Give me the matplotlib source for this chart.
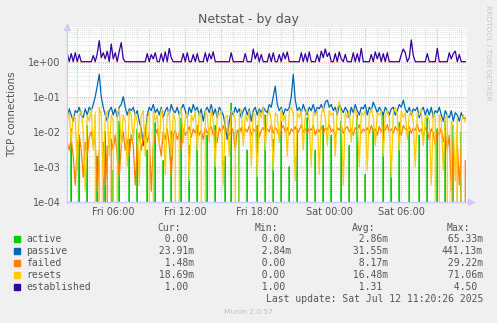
import numpy as np
import matplotlib
matplotlib.use("Agg")
import matplotlib.pyplot as plt
from matplotlib.ticker import FixedLocator, NullFormatter

# samples every 10 minutes, hours counted from Fri 00:00
hours = np.arange(200) / 6.0 + 2.17

active = [0, 0, 0.012, 0, 0, 0, 0.008, 0, 0, 0,
          0.015, 0, 0, 0, 0, 0.002, 0, 0, 0, 0.01,
          0, 0, 0, 0.0008, 0, 0, 0.02, 0, 0, 0,
          0, 0.006, 0, 0, 0, 0.012, 0, 0, 0, 0,
          0.003, 0, 0, 0, 0.018, 0, 0, 0, 0.0015, 0,
          0, 0, 0.01, 0, 0, 0, 0, 0.025, 0, 0,
          0, 0.004, 0, 0, 0, 0.012, 0, 0, 0, 0,
          0.008, 0, 0, 0, 0.015, 0, 0, 0, 0, 0.002,
          0, 0, 0.065, 0, 0, 0, 0.012, 0, 0, 0,
          0.003, 0, 0, 0, 0, 0.015, 0, 0, 0, 0.03,
          0, 0, 0, 0.006, 0, 0, 0, 0.02, 0, 0,
          0, 0.001, 0, 0, 0, 0.012, 0, 0, 0, 0,
          0.025, 0, 0, 0, 0.003, 0, 0, 0, 0.015, 0,
          0, 0, 0.008, 0, 0, 0, 0, 0.02, 0, 0,
          0, 0.004, 0, 0, 0, 0.03, 0, 0, 0, 0.0006,
          0, 0, 0, 0.012, 0, 0, 0, 0, 0.035, 0,
          0, 0, 0.002, 0, 0, 0, 0.018, 0, 0, 0,
          0, 0.01, 0, 0, 0, 0, 0.008, 0, 0, 0,
          0.025, 0, 0, 0, 0, 0.012, 0, 0, 0, 0.02,
          0, 0, 0, 0.015, 0, 0, 0, 0.01, 0, 0]
passive = [0.025, 0.045, 0.03, 0.02, 0.04, 0.035, 0.05, 0.03, 0.025, 0.045,
           0.03, 0.05, 0.04, 0.06, 0.1, 0.2, 0.44, 0.1, 0.05, 0.03,
           0.02, 0.04, 0.05, 0.03, 0.045, 0.025, 0.05, 0.06, 0.1, 0.05,
           0.03, 0.045, 0.04, 0.05, 0.03, 0.04, 0.02, 0.012, 0.004, 0.008,
           0.03, 0.05, 0.04, 0.06, 0.035, 0.045, 0.03, 0.05, 0.025, 0.04,
           0.05, 0.03, 0.06, 0.04, 0.035, 0.05, 0.03, 0.045, 0.06, 0.04,
           0.025, 0.05, 0.035, 0.06, 0.04, 0.05, 0.03, 0.045, 0.02, 0.04,
           0.05, 0.035, 0.06, 0.03, 0.045, 0.025, 0.05, 0.04, 0.03, 0.015,
           0.006, 0.02, 0.04, 0.03, 0.05, 0.035, 0.045, 0.025, 0.04, 0.05,
           0.03, 0.045, 0.02, 0.04, 0.05, 0.03, 0.045, 0.035, 0.05, 0.04,
           0.035, 0.06, 0.05, 0.1, 0.2, 0.06, 0.04, 0.05, 0.03, 0.045,
           0.04, 0.05, 0.1, 0.44, 0.08, 0.04, 0.05, 0.035, 0.06, 0.04,
           0.03, 0.05, 0.04, 0.06, 0.035, 0.05, 0.045, 0.06, 0.04, 0.07,
           0.08, 0.05, 0.06, 0.04, 0.05, 0.03, 0.06, 0.045, 0.035, 0.05,
           0.04, 0.025, 0.05, 0.035, 0.06, 0.04, 0.03, 0.05, 0.045, 0.06,
           0.03, 0.05, 0.04, 0.07, 0.05, 0.035, 0.05, 0.04, 0.03, 0.05,
           0.04, 0.03, 0.045, 0.05, 0.03, 0.04, 0.06, 0.05, 0.08, 0.045,
           0.035, 0.05, 0.03, 0.045, 0.04, 0.05, 0.025, 0.04, 0.05, 0.03,
           0.045, 0.03, 0.05, 0.025, 0.04, 0.035, 0.05, 0.03, 0.02, 0.04,
           0.03, 0.025, 0.04, 0.02, 0.035, 0.03, 0.02, 0.035, 0.025, 0.024]
failed = [0.005, 0.003, 0.006, 0.002, 0.0003, 0.004, 0.008, 0.003, 0.0005, 0.005,
          0.002, 0.007, 0.01, 0.004, 0.006, 0.0002, 0.003, 0, 0.005, 0.0003,
          0.004, 0, 0.006, 0.003, 0.008, 0.002, 0.0005, 0.004, 0.01, 0.003,
          0.006, 0.002, 0.008, 0.004, 0.0003, 0.005, 0.009, 0.003, 0.007, 0.012,
          0.005, 0.009, 0.0002, 0.004, 0.008, 0.012, 0.005, 0.002, 0.01, 0.006,
          0.012, 0.004, 0.0005, 0.008, 0.011, 0.006, 0.009, 0.003, 0.012, 0.008,
          0.01, 0.014, 0.007, 0.012, 0.009, 0.015, 0.008, 0.011, 0.006, 0.013,
          0.009, 0.012, 0.014, 0.008, 0.011, 0.005, 0.013, 0.01, 0.015, 0.009,
          0.012, 0.008, 0.014, 0.01, 0.003, 0.011, 0.009, 0.013, 0.007, 0.012,
          0.01, 0.015, 0.008, 0.012, 0.01, 0.014, 0.007, 0.011, 0.013, 0.009,
          0.012, 0.01, 0.016, 0.009, 0.013, 0.011, 0.007, 0.012, 0.015, 0.01,
          0.013, 0.008, 0.012, 0.01, 0.014, 0.009, 0.011, 0.016, 0.01, 0.012,
          0.009, 0.013, 0.011, 0.015, 0.008, 0.012, 0.01, 0.014, 0.009, 0.013,
          0.011, 0.016, 0.01, 0.012, 0.007, 0.013, 0.011, 0.015, 0.009, 0.012,
          0.014, 0.01, 0.012, 0.008, 0.013, 0.011, 0.016, 0.009, 0.012, 0.01,
          0.013, 0.009, 0.015, 0.011, 0.012, 0.008, 0.014, 0.01, 0.013, 0.011,
          0.016, 0.01, 0.012, 0.009, 0.014, 0.011, 0.013, 0.008, 0.015, 0.012,
          0.01, 0.014, 0.009, 0.013, 0.011, 0.016, 0.01, 0.012, 0.007, 0.013,
          0.011, 0.006, 0.012, 0.009, 0.004, 0.011, 0.008, 0.013, 0.005, 0.01,
          0.003, 0.008, 0.0002, 0.006, 0, 0.005, 0.0003, 0.004, 0, 0.0015]
resets = [0.02, 0.035, 0.005, 0.03, 0.025, 0.0008, 0.03, 0.04, 0.01, 0.0002,
          0.03, 0.02, 0.045, 0.003, 0.035, 0, 0.05, 0.03, 0.0005, 0.025,
          0.04, 0.002, 0.03, 0.02, 0, 0.035, 0.045, 0.004, 0.03, 0.02,
          0.001, 0.04, 0.03, 0.006, 0.035, 0.02, 0.0003, 0.03, 0.04, 0.002,
          0.025, 0.035, 0, 0.04, 0.02, 0.03, 0.004, 0.045, 0.025, 0.0006,
          0.03, 0.04, 0.002, 0.035, 0.02, 0, 0.03, 0.045, 0.005, 0.025,
          0.035, 0.0004, 0.03, 0.02, 0.04, 0.003, 0.035, 0.025, 0, 0.04,
          0.03, 0.005, 0.045, 0.02, 0.001, 0.035, 0.03, 0.04, 0.0003, 0.025,
          0.03, 0.002, 0.04, 0.035, 0.02, 0, 0.03, 0.045, 0.004, 0.03,
          0.02, 0.04, 0.001, 0.035, 0.03, 0.0005, 0.04, 0.025, 0.05, 0.003,
          0.03, 0.04, 0.02, 0.0008, 0.035, 0.03, 0.005, 0.045, 0.02, 0.03,
          0.002, 0.04, 0.05, 0.03, 0.0004, 0.035, 0.025, 0.04, 0.003, 0.03,
          0.045, 0.02, 0.001, 0.035, 0.03, 0.04, 0.0006, 0.03, 0.05, 0.025,
          0.004, 0.04, 0.03, 0.035, 0.002, 0.045, 0.071, 0.03, 0.0003, 0.035,
          0.025, 0.04, 0.005, 0.03, 0.045, 0.02, 0.001, 0.035, 0.03, 0.04,
          0.0008, 0.03, 0.045, 0.025, 0.004, 0.035, 0.03, 0.04, 0.002, 0.03,
          0.04, 0.025, 0.0005, 0.035, 0.05, 0.03, 0.003, 0.04, 0.025, 0.035,
          0.006, 0.03, 0.04, 0.02, 0.001, 0.035, 0.03, 0.045, 0.004, 0.025,
          0.03, 0.02, 0.0003, 0.035, 0.025, 0, 0.03, 0.02, 0.0008, 0.025,
          0.03, 0, 0.02, 0.015, 0.0004, 0.025, 0, 0.02, 0.03, 0.019]
established = [1.8, 1.0, 1.7, 1.0, 1.8, 1.0, 1.6, 1.0, 1.0, 1.0,
               1.0, 1.0, 1.0, 1.5, 1.0, 1.7, 4.0, 1.3, 1.8, 1.2,
               2.0, 1.0, 3.2, 1.2, 1.8, 1.0, 2.0, 3.5, 1.2, 1.0,
               1.0, 1.0, 1.0, 1.0, 1.0, 1.0, 1.0, 1.0, 1.0, 1.0,
               1.7, 1.0, 1.6, 1.2, 1.8, 1.0, 1.0, 1.7, 1.0, 1.9,
               1.0, 2.4, 1.3, 1.0, 1.0, 1.0, 1.0, 1.0, 1.7, 1.0,
               1.8, 1.0, 1.0, 1.6, 1.0, 1.7, 1.0, 1.0, 1.0, 1.8,
               1.0, 1.7, 1.2, 1.9, 1.0, 1.0, 1.0, 1.0, 1.0, 1.0,
               1.0, 1.0, 1.8, 1.0, 1.0, 1.0, 1.0, 1.0, 1.0, 1.7,
               1.0, 1.0, 1.0, 2.3, 1.2, 1.8, 1.0, 1.6, 1.0, 1.0,
               1.0, 1.7, 1.0, 1.8, 1.0, 1.0, 1.6, 1.0, 1.8, 1.2,
               1.9, 1.0, 1.0, 1.0, 1.0, 1.0, 1.0, 1.8, 1.0, 1.7,
               1.0, 1.9, 1.0, 1.0, 1.0, 1.6, 1.0, 2.0, 1.3, 2.3,
               1.4, 1.8, 1.0, 1.0, 1.7, 1.0, 1.9, 1.2, 1.0, 1.6,
               1.0, 1.0, 1.0, 1.8, 1.0, 1.7, 1.0, 2.4, 1.0, 1.0,
               1.0, 1.0, 1.6, 1.0, 1.9, 1.2, 1.8, 1.0, 1.7, 1.0,
               1.8, 1.0, 1.0, 1.0, 1.0, 1.0, 1.0, 1.6, 2.3, 1.8,
               1.0, 1.3, 4.2, 1.5, 1.0, 1.0, 1.0, 1.0, 1.0, 1.0,
               1.7, 1.0, 1.0, 1.0, 1.0, 2.4, 1.0, 1.0, 1.0, 1.0,
               1.0, 1.8, 1.2, 1.7, 2.0, 1.0, 1.6, 1.0, 1.0, 1.0]

names = ["active", "passive", "failed", "resets", "established"]
colors = ["#00cc00", "#0066b3", "#ff8000", "#ffcc00", "#330099"]
series = [active, passive, failed, resets, established]
cur = ["0.00 ", "23.91m", "1.48m", "18.69m", "1.00 "]
mins = ["0.00 ", "2.84m", "0.00 ", "0.00 ", "1.00 "]
avgs = ["2.86m", "31.55m", "8.17m", "16.48m", "1.31 "]
maxs = ["65.33m", "441.13m", "29.22m", "71.06m", "4.50 "]

tick_hours = [6, 12, 18, 24, 30]
tick_names = ["Fri 06:00", "Fri 12:00", "Fri 18:00", "Sat 00:00", "Sat 06:00"]

W, H = 497, 323
fig = plt.figure(figsize=(W / 100, H / 100), dpi=100, facecolor="#f0f0f0")
ax = fig.add_axes([67 / W, 1 - 201.7 / H, 400 / W, 175 / H])
ax.set_facecolor("white")

for vals, c in zip(series, colors):
    ax.plot(hours, vals, color=c, lw=0.9)

ax.set_yscale("log", nonpositive="clip")
ax.set_ylim(1e-4, 10)
ax.set_xlim(2.15, 35.48)

# grid like rrdtool: red dotted majors, grey dotted minors
ax.xaxis.set_major_locator(FixedLocator(np.arange(3, 36, 3)))
ax.xaxis.set_minor_locator(FixedLocator(np.arange(3, 36, 1)))
ax.set_xticklabels([tick_names[tick_hours.index(h)] if h in tick_hours else ""
                    for h in np.arange(3, 36, 3)])
ax.yaxis.set_major_locator(FixedLocator([1e-4, 1e-3, 1e-2, 1e-1, 1e0]))
ax.yaxis.set_minor_locator(FixedLocator([m * 10.0 ** e for e in range(-4, 1) for m in range(2, 10)]))
ax.yaxis.set_minor_formatter(NullFormatter())
ax.set_yticklabels(["1e-04", "1e-03", "1e-02", "1e-01", "1e+00"])
ax.grid(which="minor", color="#d4d4d4", linestyle=(0, (1, 1.5)), lw=0.6)
ax.grid(which="major", color="#f0a0a0", linestyle=(0, (1, 1.5)), lw=0.6)
ax.set_axisbelow(True)
ax.tick_params(which="both", length=0, labelsize=7, labelcolor="#555555")
ax.tick_params(axis="y", pad=4.5)
ax.tick_params(axis="x", pad=4)

for s in ["top", "right"]:
    ax.spines[s].set_visible(False)
for s in ["left", "bottom"]:
    ax.spines[s].set_color("#ccccff")
    ax.spines[s].set_linewidth(1.0)
ax.plot([0], [1], marker="^", color="#ccccff", ms=4, transform=ax.transAxes, clip_on=False)
ax.plot([1.01], [0], marker=">", color="#ccccff", ms=4, transform=ax.transAxes, clip_on=False)

ax.set_ylabel("TCP connections", fontsize=7.5, color="#555555", labelpad=8)
fig.text(248 / W, 1 - 20 / H, "Netstat - by day", fontsize=9, color="#555555",
         ha="center", va="center")
fig.text(488 / W, 1 - 5 / H, "RRDTOOL / TOBI OETIKER", fontsize=5.4, color="#c8c8c8",
         rotation=270, ha="center", va="top")

# legend block
mono = "DejaVu Sans Mono"
for x0, head in zip([157.7, 255, 351.7, 447], ["Cur:", "Min:", "Avg:", "Max:"]):
    fig.text(x0 / W, 1 - 228.3 / H, head, fontsize=7, family=mono, color="#555555", va="center")
rows_y = [239, 251, 263, 275, 287]
for i in range(5):
    y = 1 - rows_y[i] / H
    fig.patches.append(plt.Rectangle((13.7 / W, y - 3 / H), 6 / W, 6 / H, color=colors[i],
                                     transform=fig.transFigure, figure=fig))
    fig.text(26.3 / W, y, names[i], fontsize=7, family=mono, color="#555555", va="center")
    for xr, col in zip([194.3, 290.7, 388, 483], [cur, mins, avgs, maxs]):
        fig.text(xr / W, y, col[i].rjust(7), fontsize=7, family=mono, color="#555555",
                 va="center", ha="right")
fig.text(483 / W, 1 - 299.3 / H, "Last update: Sat Jul 12 11:20:26 2025", fontsize=7,
         family=mono, color="#555555", va="center", ha="right")
fig.text(248 / W, 1 - 312 / H, "Munin 2.0.57", fontsize=5.4, color="#c0c0c0",
         va="center", ha="center")

fig.savefig("out.png", dpi=100, facecolor=fig.get_facecolor())
